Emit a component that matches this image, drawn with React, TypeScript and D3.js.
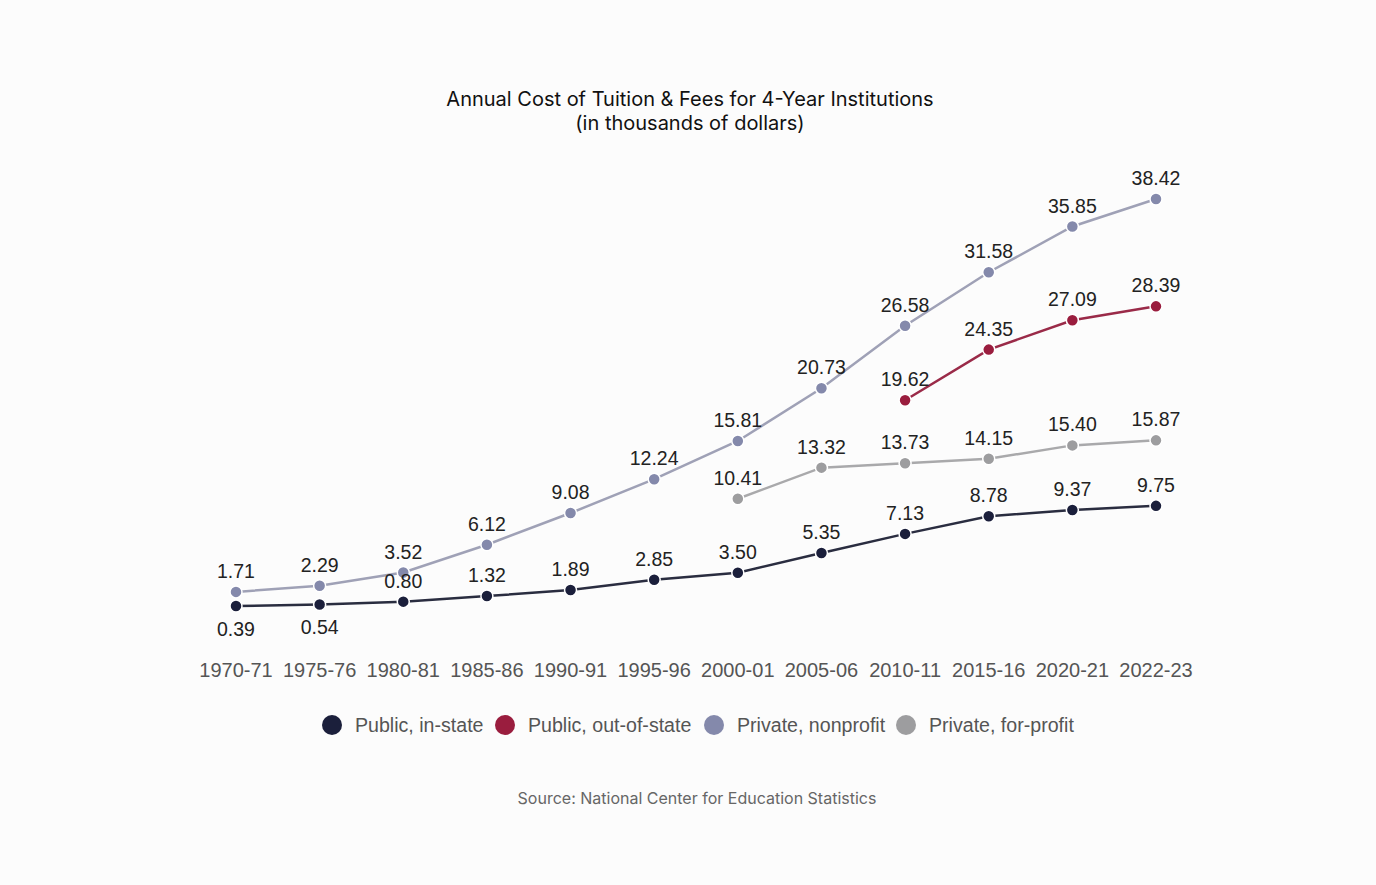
import React from "react";
import * as d3 from "d3";

const years = ["1970-71","1975-76","1980-81","1985-86","1990-91","1995-96","2000-01","2005-06","2010-11","2015-16","2020-21","2022-23"];
const publicIn: (number|null)[] = [0.39,0.54,0.80,1.32,1.89,2.85,3.50,5.35,7.13,8.78,9.37,9.75];
const publicOut: (number|null)[] = [null,null,null,null,null,null,null,null,19.62,24.35,27.09,28.39];
const privNon: (number|null)[] = [1.71,2.29,3.52,6.12,9.08,12.24,15.81,20.73,26.58,31.58,35.85,38.42];
const privFor: (number|null)[] = [null,null,null,null,null,null,10.41,13.32,13.73,14.15,15.40,15.87];

const seriesNames = ["Public, in-state","Public, out-of-state","Private, nonprofit","Private, for-profit"];
const seriesData = [publicIn, publicOut, privNon, privFor];
const markerColors = ["#1b1f3b","#9a1d3e","#8489ab","#9d9d9f"];
const lineColors = ["#2a2d40","#9a2a48","#9fa1b6","#a9a9ab"];

export default function App() {
  const W = 1376, H = 885;
  const x = d3.scalePoint<string>().domain(years).range([236, 1156]);
  const y = d3.scaleLinear().domain([0, 38.42]).range([610.2, 199]);
  const line = d3.line<[string, number|null]>()
    .defined(d => d[1] !== null)
    .x(d => x(d[0])!)
    .y(d => y(d[1] as number));
  const legendX = [332, 505, 714, 906];
  const labelFont = "'Liberation Sans', Arial, sans-serif";
  return (
    <svg width={W} height={H} style={{ position: "absolute", left: 0, top: 0, background: "#fcfcfc" }}>
      <rect x={0} y={0} width={W} height={H} fill="#fcfcfc" />
      <text x={690} y={106} textAnchor="middle" fontFamily="Inter, sans-serif" fontSize={20} fill="#111">Annual Cost of Tuition &amp; Fees for 4-Year Institutions</text>
      <text x={690} y={130} textAnchor="middle" fontFamily="Inter, sans-serif" fontSize={20} fill="#111">(in thousands of dollars)</text>
      {seriesData.map((s, i) => (
        <path key={"l"+i} d={line(years.map((yr, j) => [yr, s[j]] as [string, number|null])) || ""} fill="none" stroke={lineColors[i]} strokeWidth={2.5} />
      ))}
      {seriesData.map((s, i) => s.map((v, j) => v === null ? null : (
        <circle key={"c"+i+"-"+j} cx={x(years[j])} cy={y(v)} r={6} fill={markerColors[i]} stroke="#fff" strokeWidth={1.5} />
      )))}
      {seriesData.map((s, i) => s.map((v, j) => {
        if (v === null) return null;
        const below = i === 0 && j < 2;
        return (
          <text key={"t"+i+"-"+j} x={x(years[j])} y={y(v) + (below ? 30 : -14)} textAnchor="middle" fontFamily={labelFont} fontSize={19.5} fill="#222">{v.toFixed(2)}</text>
        );
      }))}
      {years.map(yr => (
        <text key={"x"+yr} x={x(yr)} y={677} textAnchor="middle" fontFamily={labelFont} fontSize={20} fill="#555">{yr}</text>
      ))}
      {seriesNames.map((n, i) => (
        <g key={"g"+i}>
          <circle cx={legendX[i]} cy={725} r={10} fill={markerColors[i]} />
          <text x={legendX[i] + 23} y={732} fontFamily={labelFont} fontSize={19.6} fill="#555">{n}</text>
        </g>
      ))}
      <text x={697} y={804} textAnchor="middle" fontFamily="Inter, sans-serif" fontSize={16} fill="#666">Source: National Center for Education Statistics</text>
    </svg>
  );
}
